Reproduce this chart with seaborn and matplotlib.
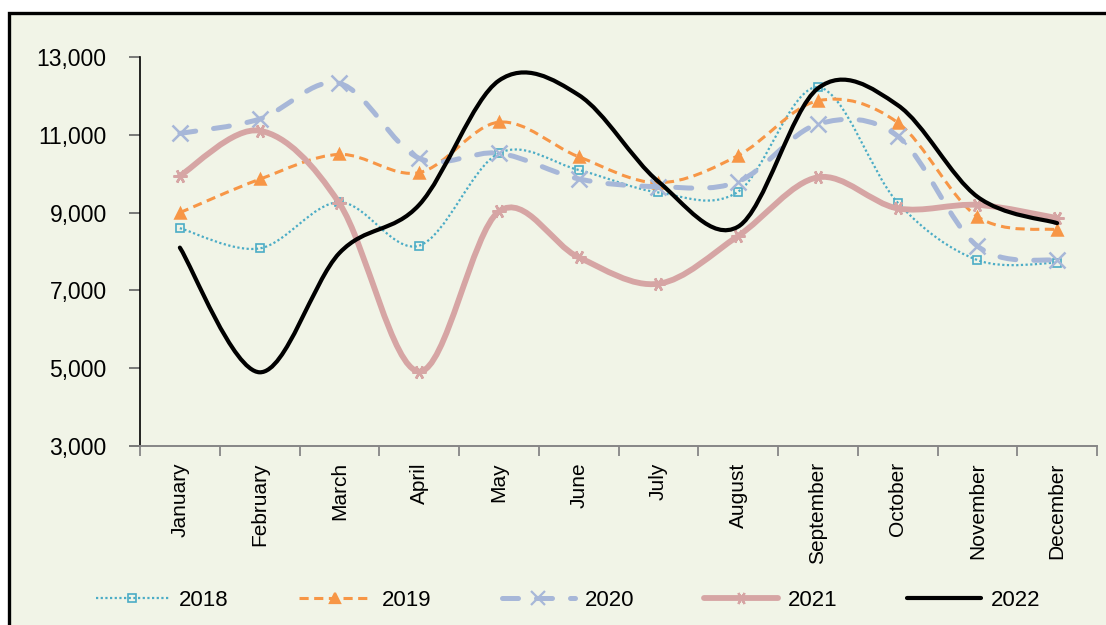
import numpy as np
import matplotlib
matplotlib.use('Agg')
import matplotlib.pyplot as plt
import seaborn as sns
from matplotlib.path import Path
from matplotlib.patches import PathPatch, Rectangle
from matplotlib.lines import Line2D
from matplotlib.ticker import FuncFormatter

# data
months = ['January', 'February', 'March', 'April', 'May', 'June', 'July',
          'August', 'September', 'October', 'November', 'December']
y2018 = [8600, 8080, 9270, 8150, 10530, 10100, 9520, 9540, 12230, 9260, 7780, 7710]
y2019 = [9000, 9860, 10500, 10030, 11330, 10440, 9770, 10470, 11880, 11320, 8900, 8560]
y2020 = [11040, 11410, 12330, 10400, 10530, 9870, 9670, 9800, 11280, 10970, 8140, 7770]
y2021 = [9950, 11110, 9240, 4910, 9030, 7850, 7170, 8400, 9910, 9110, 9200, 8860]
y2022 = [8100, 4890, 7960, 9200, 12400, 12030, 9800, 8640, 12200, 11770, 9410, 8730]
years = ['2018', '2019', '2020', '2021', '2022']
series = [y2018, y2019, y2020, y2021, y2022]

# look of each series
colors = ['#4BACC6', '#F79646', '#A7B7D8', '#D6A5A4', '#000000']
widths = [1.6, 2.2, 3.6, 4.2, 3.0]
dashes = [(0, (1, 1.1)), (0, (3, 1.8)), (0, (3.2, 3.6)), 'solid', 'solid']
caps = ['butt', 'butt', 'round', 'round', 'round']
markers = ['s', '^', 'x', (6, 2, 90), None]
msizes = [6, 7.5, 11, 10, 0]

sns.set_style('white')
plt.rcParams['font.family'] = ['Liberation Sans', 'DejaVu Sans']
plt.rcParams['text.color'] = 'black'
plt.rcParams['xtick.labelcolor'] = 'black'
plt.rcParams['ytick.labelcolor'] = 'black'

bg = '#F1F4E7'
fig = plt.figure(figsize=(11.06, 6.25), dpi=100, facecolor='white')
fig.patches.append(Rectangle((9 / 1106, -0.05), 1.1, 1 - 12.5 / 625 + 0.05,
                             transform=fig.transFigure, facecolor=bg,
                             edgecolor='black', linewidth=2.4, zorder=-5))
ax = fig.add_axes([140 / 1106, 1 - 445.7 / 625, 957 / 1106, (445.7 - 57.3) / 625])
ax.set_facecolor(bg)


def smooth_path(ys):
    # excel style smoothed line: cubic bezier with catmull-rom handles
    xs = np.arange(len(ys), dtype=float)
    pts = np.column_stack([xs, np.asarray(ys, dtype=float)])
    ext = np.vstack([pts[0], pts, pts[-1]])
    verts = [pts[0]]
    codes = [Path.MOVETO]
    for i in range(len(pts) - 1):
        c1 = pts[i] + (ext[i + 2] - ext[i]) / 6
        c2 = pts[i + 1] - (ext[i + 3] - ext[i + 1]) / 6
        verts += [c1, c2, pts[i + 1]]
        codes += [Path.CURVE4] * 3
    return Path(verts, codes)


x_idx = np.arange(len(months))
handles = []
for k, (yr, vals) in enumerate(zip(years, series)):
    patch = PathPatch(smooth_path(vals), facecolor='none', edgecolor=colors[k],
                      linewidth=widths[k], linestyle=dashes[k],
                      capstyle=caps[k], zorder=2 + k)
    ax.add_patch(patch)
    if markers[k] is not None:
        filled = markers[k] in ('^',)
        sns.lineplot(x=x_idx, y=vals, ax=ax, linestyle='none', marker=markers[k],
                     markersize=msizes[k], markeredgecolor=colors[k],
                     markerfacecolor=colors[k] if filled else 'none',
                     markeredgewidth=1.2 if k == 0 else 1.8, color=colors[k],
                     zorder=2.5 + k)
    handles.append(Line2D([], [], color=colors[k], linewidth=widths[k],
                          linestyle=dashes[k], dash_capstyle=caps[k],
                          marker=markers[k], markersize=msizes[k] * 0.9,
                          markeredgecolor=colors[k],
                          markerfacecolor=colors[k] if k == 1 else 'none',
                          markeredgewidth=1.2 if k == 0 else 1.6))

ax.set_xlim(-0.5, 11.5)
ax.set_ylim(3000, 13000)
ax.set_yticks(range(3000, 13001, 2000))
ax.yaxis.set_major_formatter(FuncFormatter(lambda v, p: f'{v:,.0f}'))
ax.set_xticks(np.arange(-0.5, 12, 1))
ax.set_xticklabels([])
ax.set_xticks(x_idx, minor=True)
ax.set_xticklabels(months, minor=True, rotation=90, fontsize=15)
ax.tick_params(axis='x', which='major', bottom=True, direction='out', length=7,
               width=1.3, color='#868686')
ax.tick_params(axis='x', which='minor', bottom=True, length=0, pad=12)
ax.tick_params(axis='y', left=True, direction='out', length=8, width=1.3,
               color='#6E6E6E', labelsize=16.5, pad=16)
ax.set_xlabel('')
ax.set_ylabel('')
for s in ['top', 'right']:
    ax.spines[s].set_visible(False)
ax.spines['left'].set_color('black')
ax.spines['left'].set_linewidth(1.2)
ax.spines['bottom'].set_color('#868686')
ax.spines['bottom'].set_linewidth(1.4)

fig.legend(handles, years, loc='center', bbox_to_anchor=(568 / 1106, 1 - 600 / 625),
           ncol=5, frameon=False, fontsize=16, handlelength=3.3,
           handletextpad=0.45, columnspacing=3.15)

fig.savefig('out.png', dpi=100, facecolor=fig.get_facecolor())
